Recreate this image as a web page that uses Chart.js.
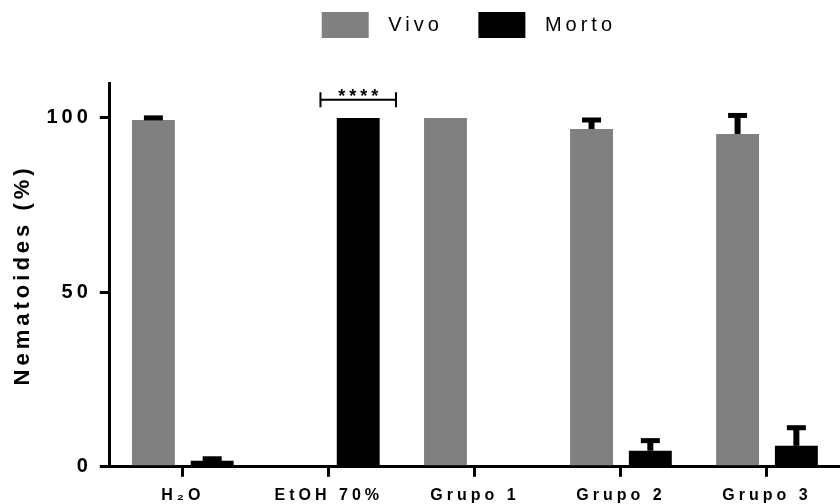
<!DOCTYPE html>
<html lang="en">
<head>
  <meta charset="UTF-8">
  <title>Nematoides</title>
  <script src="https://cdn.jsdelivr.net/npm/chart.js"></script>
  <style>
    body { margin: 0; padding: 0; background: #fff; }
    .chart-container { position: relative; width: 840px; height: 504px; }
  </style>
</head>
<body>
  <div class="chart-container">
    <canvas id="nemaChart"></canvas>
  </div>

  <script>
    // data
    const categories = ['H₂O', 'EtOH 70%', 'Grupo 1', 'Grupo 2', 'Grupo 3'];
    const vivo = [99.4, 0, 100, 96.8, 95.4];
    const vivoErr = [0.6, 0, 0, 2.6, 5.3];
    const morto = [1.7, 100, 0, 4.6, 6.0];
    const mortoErr = [0.6, 0, 0, 2.9, 5.2];
    const yTicks = [0, 50, 100];
    const sigLabel = '****';
    const sigLevel = 105.2; // bracket height over EtOH 70%

    const spacing = '4px';

    const spacingPlugin = {
      id: 'spacing',
      beforeInit(chart) {
        // leave a gap between the legend and the plot
        const legend = chart.legend;
        const fit = legend.fit;
        legend.fit = function () {
          fit.call(this);
          this.height += 35;
        };
      },
      beforeLayout(chart) { chart.ctx.letterSpacing = spacing; },
      afterLayout(chart) {
        // centre the legend roughly over the plot area
        const shift = (chart.chartArea.left + chart.chartArea.right) / 2 - chart.width / 2 - 11;
        chart.legend.left += shift;
        chart.legend.right += shift;
      },
      beforeDraw(chart) { chart.ctx.letterSpacing = spacing; }
    };

    // error bars (upper only) + significance bracket
    const extrasPlugin = {
      id: 'extras',
      afterDatasetsDraw(chart) {
        const ctx = chart.ctx;
        const y = chart.scales.y;
        const errs = [vivoErr, mortoErr];
        const vals = [vivo, morto];
        ctx.save();
        ctx.fillStyle = '#000';
        errs.forEach((err, d) => {
          chart.getDatasetMeta(d).data.forEach((bar, i) => {
            if (!err[i]) return;
            const top = y.getPixelForValue(vals[d][i] + err[i]);
            const base = y.getPixelForValue(vals[d][i]);
            ctx.fillRect(bar.x - 3, top, 6, base - top);
            ctx.fillRect(bar.x - 9.5, top - 2.5, 19, 5);
          });
        });

        const bar = chart.getDatasetMeta(1).data[1];
        const ly = y.getPixelForValue(sigLevel);
        const half = bar.width * 0.88;
        ctx.strokeStyle = '#000';
        ctx.lineWidth = 2;
        ctx.beginPath();
        ctx.moveTo(bar.x - half, ly);
        ctx.lineTo(bar.x + half, ly);
        ctx.moveTo(bar.x - half, ly - 7.5);
        ctx.lineTo(bar.x - half, ly + 7.5);
        ctx.moveTo(bar.x + half, ly - 7.5);
        ctx.lineTo(bar.x + half, ly + 7.5);
        ctx.stroke();
        ctx.letterSpacing = spacing;
        ctx.font = 'bold 18px "Liberation Sans", Arial, sans-serif';
        ctx.textAlign = 'center';
        ctx.textBaseline = 'alphabetic';
        ctx.fillText(sigLabel, bar.x + 2, ly + 2);
        ctx.restore();
      }
    };

    new Chart(document.getElementById('nemaChart'), {
      type: 'bar',
      data: {
        labels: categories,
        datasets: [
          { label: ' Vivo\u2002 ', data: vivo, backgroundColor: '#808080', categoryPercentage: 0.805, barPercentage: 0.73 },
          { label: ' Morto', data: morto, backgroundColor: '#000000', categoryPercentage: 0.805, barPercentage: 0.73 }
        ]
      },
      options: {
        responsive: true,
        maintainAspectRatio: false,
        animation: false,
        layout: { padding: { top: 0, right: 0, left: 10, bottom: -10 } },
        plugins: {
          legend: {
            position: 'top',
            labels: {
              color: '#000',
              boxWidth: 47,
              boxHeight: 26,
              padding: 12,
              font: { family: '"Liberation Sans", Arial, sans-serif', size: 20 }
            }
          },
          tooltip: { enabled: false }
        },
        scales: {
          x: {
            offset: true,
            border: { color: '#000', width: 3 },
            grid: { offset: false, drawOnChartArea: false, drawTicks: true, tickLength: 10, lineWidth: 3, color: '#000' },
            ticks: {
              color: '#000',
              padding: 9,
              maxRotation: 0,
              font: { family: '"Liberation Sans", Arial, sans-serif', size: 16, weight: 'bold' }
            }
          },
          y: {
            min: 0,
            max: 110,
            border: { color: '#000', width: 3 },
            grid: { drawOnChartArea: false, drawTicks: true, tickLength: 10, lineWidth: 3, color: '#000' },
            afterBuildTicks(axis) { axis.ticks = yTicks.map(v => ({ value: v })); },
            ticks: {
              color: '#000',
              padding: 8,
              font: { family: '"Liberation Sans", Arial, sans-serif', size: 20, weight: 'bold' }
            },
            title: {
              display: true,
              text: 'Nematoides (%)',
              color: '#000',
              padding: { top: 0, bottom: 2 },
              font: { family: '"Liberation Sans", Arial, sans-serif', size: 22, weight: 'bold' }
            }
          }
        }
      },
      plugins: [spacingPlugin, extrasPlugin]
    });
  </script>
</body>
</html>
